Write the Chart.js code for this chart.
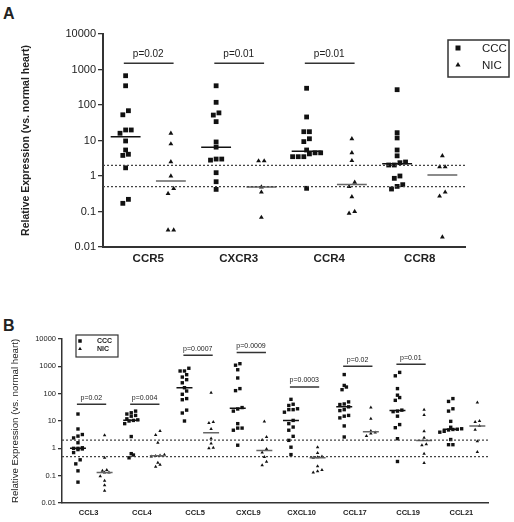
<!DOCTYPE html>
<html>
<head>
<meta charset="utf-8">
<script src="https://cdn.jsdelivr.net/npm/chart.js@4.4.1/dist/chart.umd.min.js"></script>
<style>
  body { margin: 0; background: #fff; width: 514px; height: 522px; position: relative; overflow: hidden;
         font-family: 'Liberation Sans', Arial, sans-serif; }
  .panel { position: absolute; left: 0; width: 514px; }
  #boxA { top: 0; height: 310px; }
  #boxB { top: 315px; height: 207px; }
  .letter { position: absolute; left: 3px; font-weight: bold; font-size: 16px; line-height: 16px; color: #222; }
</style>
</head>
<body>
<div class="letter" style="top:6px">A</div>
<div class="letter" style="top:318px">B</div>
<div class="panel" id="boxA"><canvas id="chartA"></canvas></div>
<div class="panel" id="boxB"><canvas id="chartB"></canvas></div>
<script>
// shared axis
const yTicks = [0.01, 0.1, 1, 10, 100, 1000, 10000];
const yTickLabels = ['0.01', '0.1', '1', '10', '100', '1000', '10000'];
const cutoffs = [2, 0.5];
const groupNames = ['CCC', 'NIC'];

// panel A - receptors
const catsA = ['CCR5', 'CXCR3', 'CCR4', 'CCR8'];
const ccr5CCC = [668, 348, 69, 53, 19.8, 19.8, 16, 9.7, 5.4, 4.1, 3.8, 1.7, 0.22, 0.17];
const ccr5NIC = [16, 8, 2.5, 1.0, 0.44, 0.32, 0.03, 0.03];
const cxcr3CCC = [348, 119, 60, 52, 34, 9.1, 6.5, 3.0, 2.8, 3.0, 1.24, 0.69, 0.42];
const cxcr3NIC = [2.65, 2.65, 0.49, 0.35, 0.068];
const ccr4CCC = [296, 46, 17.7, 17.7, 11.2, 9.3, 5.4, 4.5, 4.5, 4.2, 3.5, 3.5, 3.5, 0.45];
const ccr4NIC = [11.2, 4.5, 2.7, 0.66, 0.5, 0.26, 0.1, 0.089];
const ccr8CCC = [270, 16.6, 11.8, 5.4, 3.7, 2.48, 2.37, 2.04, 2.04, 1.0, 0.86, 0.57, 0.51, 0.43];
const ccr8NIC = [3.7, 1.8, 1.8, 0.35, 0.27, 0.019];
const pTextA = ['p=0.02', 'p=0.01', 'p=0.01', ''];
const pLevelA = [1500, 1500, 1500, null];

// panel B - chemokines
const catsB = ['CCL3', 'CCL4', 'CCL5', 'CXCL9', 'CXCL10', 'CCL17', 'CCL19', 'CCL21'];
const ccl3CCC = [18, 5.1, 3.2, 2.8, 2.4, 1.6, 1.05, 1.0, 1.0, 0.95, 0.9, 0.7, 0.38, 0.27, 0.15, 0.058];
const ccl3NIC = [3, 0.45, 0.16, 0.15, 0.13, 0.13, 0.095, 0.065, 0.045, 0.028];
const ccl4CCC = [23, 20, 18, 16, 15, 12, 11, 10.5, 10, 8, 2.7, 0.64, 0.57, 0.45];
const ccl4NIC = [4.3, 3.1, 1.6, 0.58, 0.55, 0.52, 0.5, 0.3, 0.25, 0.21];
const ccl5CCC = [850, 675, 675, 495, 405, 325, 250, 165, 125, 95, 66, 60, 25, 19.6, 10];
const ccl5NIC = [109, 9.2, 8.5, 5.1, 2.3, 1.5, 1.05, 1.0];
const cxcl9CCC = [1250, 1100, 750, 375, 153, 129, 31, 27.5, 23, 8, 5.5, 5.5, 4.6, 1.3];
const cxcl9NIC = [9.5, 2.6, 2.0, 0.95, 0.7, 0.48, 0.32, 0.24];
const cxcl10CCC = [62, 41, 37, 28, 26, 26, 21, 10.5, 8, 6, 4.6, 2.75, 1.96, 1.1, 0.59];
const cxcl10NIC = [1.1, 0.67, 0.5, 0.47, 0.45, 0.22, 0.16, 0.145, 0.13];
const ccl17CCC = [500, 200, 175, 140, 50, 42, 40, 33, 26, 24, 16, 15, 13, 6.6, 2.6];
const ccl17NIC = [31, 12, 4.3, 3.8, 3.5, 2.8];
const ccl19CCC = [600, 450, 153, 88, 72, 57, 25, 23, 22, 15, 7.4, 5.7, 2.25, 0.33];
const ccl19NIC = [26, 16.6, 4.2, 2.45, 1.4, 1.3, 0.64, 0.29];
const ccl21CCC = [66, 52, 28, 23, 9.7, 5.9, 5.2, 5.0, 4.9, 4.7, 4.2, 3.9, 2.1, 1.36, 1.36];
const ccl21NIC = [48, 10, 9.2, 6.6, 4.8, 1.8, 0.73];
const pTextB = ['p=0.02', 'p=0.004', 'p=0.0007', 'p=0.0009', 'p=0.0003', 'p=0.02', 'p=0.01', ''];
const pLevelB = [41, 41, 2570, 3200, 176, 1000, 1200, null];

const FONT = "'Liberation Sans', Arial, sans-serif";
const INK = '#222';
const AXIS = '#333';

function median(arr) {
  const s = arr.slice().sort((a, b) => a - b);
  const n = s.length;
  return n % 2 ? s[(n - 1) / 2] : (s[n / 2 - 1] + s[n / 2]) / 2;
}

// simple dot-plot spread: values that are close on the log axis sit side by side
function swarm(values, center, step, gap) {
  const s = values.slice().sort((a, b) => a - b);
  const pts = [];
  let i = 0;
  while (i < s.length) {
    let j = i;
    while (j + 1 < s.length && Math.log10(s[j + 1]) - Math.log10(s[i]) < gap) j++;
    const n = j - i + 1;
    for (let k = 0; k < n; k++) pts.push({x: center + (k - (n - 1) / 2) * step, y: s[i + k]});
    i = j + 1;
  }
  return pts;
}

function segment(list, x0, x1, y) {
  list.push({x: x0, y: y}, {x: x1, y: y}, {x: x1, y: null});
}

const panelPlugin = {
  id: 'panelText',
  afterDatasetsDraw(chart, args, o) {
    const {ctx, scales: {x, y}} = chart;
    ctx.save();
    ctx.fillStyle = INK;
    ctx.font = o.pFont;
    ctx.textAlign = 'center';
    ctx.textBaseline = 'bottom';
    o.texts.forEach((t, i) => {
      if (!t) return;
      const px = x.getPixelForValue(i + 1 + (o.cccOff + o.nicOff) / 2);
      const py = y.getPixelForValue(o.levels[i]) - o.pGap;
      ctx.fillText(t, px, py);
    });
    // legend box
    const L = o.legend;
    ctx.strokeStyle = AXIS;
    ctx.lineWidth = L.line;
    ctx.strokeRect(L.x, L.y, L.w, L.h);
    ctx.fillStyle = '#111';
    const s = L.sq;
    ctx.fillRect(L.mx - s / 2, L.rows[0] - s / 2, s, s);
    const r = L.tri;
    ctx.beginPath();
    ctx.moveTo(L.mx, L.rows[1] - r);
    ctx.lineTo(L.mx + r * 0.866, L.rows[1] + r * 0.5);
    ctx.lineTo(L.mx - r * 0.866, L.rows[1] + r * 0.5);
    ctx.closePath();
    ctx.fill();
    ctx.fillStyle = INK;
    ctx.font = L.font;
    ctx.textAlign = 'left';
    ctx.textBaseline = 'middle';
    groupNames.forEach((g, i) => ctx.fillText(g, L.tx, L.rows[i] + 0.5));
    ctx.restore();
  }
};

function makePanel(canvasId, cats, ccc, nic, texts, levels, o) {
  const cccPts = [], nicPts = [], cccMed = [], nicMed = [], pLines = [], refs = [];
  cats.forEach((c, i) => {
    const pos = i + 1;
    cccPts.push(...swarm(ccc[i], pos + o.cccOff, o.step, o.gap));
    nicPts.push(...swarm(nic[i], pos + o.nicOff, o.step, o.gap));
    const m1 = median(ccc[i]);
    const m2 = median(nic[i]);
    segment(cccMed, pos + o.cccOff - o.medHalf, pos + o.cccOff + o.medHalf, m1);
    segment(nicMed, pos + o.nicOff - o.medHalf, pos + o.nicOff + o.medHalf, m2);
    if (levels[i] !== null) segment(pLines, pos + o.cccOff - 0.02, pos + o.nicOff + 0.03, levels[i]);
  });
  cutoffs.forEach(v => segment(refs, 0.5, cats.length + 0.5, v));

  const lineSet = (data, color, width, dash) => ({
    type: 'line', data: data, showLine: true, pointRadius: 0, borderColor: color,
    borderWidth: width, borderDash: dash || [], spanGaps: false, fill: false
  });

  return new Chart(document.getElementById(canvasId), {
    type: 'scatter',
    data: {
      datasets: [
        lineSet(refs, '#444', 1.2, [2, 2]),
        lineSet(cccMed, '#111', 1.5),
        lineSet(nicMed, '#666', 1.5),
        lineSet(pLines, '#333', 1.5),
        {label: 'CCC', data: cccPts, pointStyle: 'rect', pointRadius: o.sqR,
         backgroundColor: '#111', borderColor: '#111', borderWidth: 0},
        {label: 'NIC', data: nicPts, pointStyle: 'triangle', pointRadius: o.triR,
         backgroundColor: '#111', borderColor: '#111', borderWidth: 0}
      ]
    },
    options: {
      responsive: true,
      maintainAspectRatio: false,
      animation: false,
      layout: {padding: o.padding},
      plugins: {
        legend: {display: false},
        tooltip: {enabled: false},
        panelText: {texts: texts, levels: levels, cccOff: o.cccOff, nicOff: o.nicOff,
                    pFont: o.pFont, pGap: o.pGap, legend: o.legend}
      },
      scales: {
        x: {
          type: 'linear', min: 0.5, max: cats.length + 0.5,
          afterBuildTicks: s => { s.ticks = cats.map((c, i) => ({value: i + 1})); },
          afterFit: s => { s.height = o.xHeight; },
          ticks: {callback: (v, i) => cats[i], color: INK, padding: o.xPad, autoSkip: false, maxRotation: 0,
                  font: {family: FONT, size: o.catSize, weight: 'bold'}},
          grid: {display: false, drawTicks: false},
          border: {display: true, color: AXIS, width: o.axisW}
        },
        y: {
          type: 'logarithmic', min: 0.01, max: 10000,
          afterBuildTicks: s => { s.ticks = yTicks.map(v => ({value: v})); },
          afterFit: s => { s.width = o.yWidth; },
          ticks: {callback: (v, i) => yTickLabels[i], color: INK, padding: 2, autoSkip: false,
                  font: {family: FONT, size: o.tickSize}},
          grid: {display: true, drawOnChartArea: false, drawTicks: true, tickLength: o.tickLen,
                 color: AXIS, lineWidth: 1.3},
          border: {display: true, color: AXIS, width: o.axisW},
          title: {display: true, text: 'Relative Expression (vs. normal heart)', color: INK,
                  padding: {top: 4, bottom: 0},
                  font: {family: FONT, size: o.titleSize, weight: o.titleWeight}}
        }
      }
    },
    plugins: [panelPlugin]
  });
}

makePanel('chartA', catsA,
  [ccr5CCC, cxcr3CCC, ccr4CCC, ccr8CCC],
  [ccr5NIC, cxcr3NIC, ccr4NIC, ccr8NIC],
  pTextA, pLevelA, {
    cccOff: -0.25, nicOff: 0.25, step: 0.062, gap: 0.14, medHalf: 0.165,
    sqR: 3.4, triR: 2.8, padding: {left: 16, top: 34, right: 49, bottom: 43},
    xHeight: 20, xPad: 5, yWidth: 87, tickLen: 5, tickSize: 11, catSize: 11.5,
    titleSize: 10.5, titleWeight: 'bold', axisW: 2, pFont: '10px ' + FONT, pGap: 4,
    legend: {x: 448, y: 40, w: 61, h: 37, line: 1.5, sq: 5, tri: 3, mx: 458, tx: 482,
             rows: [48, 65], font: '11.5px ' + FONT}
  });

makePanel('chartB', catsB,
  [ccl3CCC, ccl4CCC, ccl5CCC, cxcl9CCC, cxcl10CCC, ccl17CCC, ccl19CCC, ccl21CCC],
  [ccl3NIC, ccl4NIC, ccl5NIC, cxcl9NIC, cxcl10NIC, ccl17NIC, ccl19NIC, ccl21NIC],
  pTextB, pLevelB, {
    cccOff: -0.2, nicOff: 0.3, step: 0.082, gap: 0.15, medHalf: 0.15,
    sqR: 2.4, triR: 2, padding: {left: 6, top: 24, right: 26, bottom: 7},
    xHeight: 12, xPad: 5, yWidth: 56, tickLen: 4, tickSize: 7.5, catSize: 7.5,
    titleSize: 9.7, titleWeight: 'normal', axisW: 1.5, pFont: '7px ' + FONT, pGap: 3,
    legend: {x: 76, y: 20, w: 42, h: 22, line: 1.2, sq: 3.5, tri: 2.2, mx: 80, tx: 97,
             rows: [26, 34], font: 'bold 7px ' + FONT}
  });
</script>
</body>
</html>
